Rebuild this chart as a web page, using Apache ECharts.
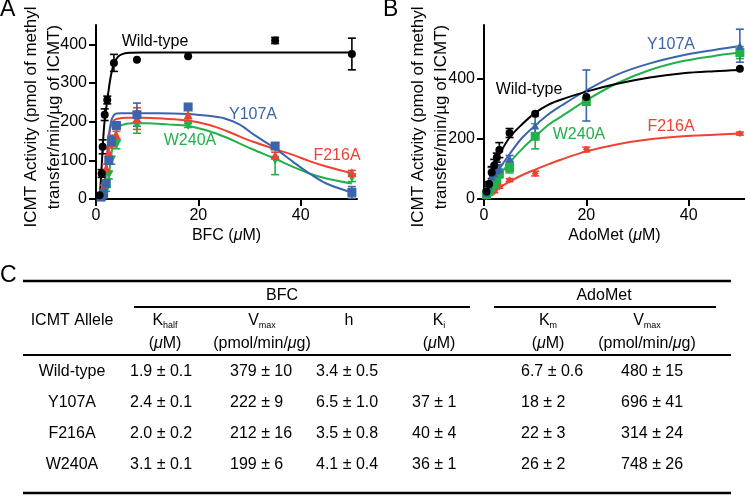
<!DOCTYPE html>
<html>
<head>
<meta charset="utf-8">
<script src="https://cdn.jsdelivr.net/npm/echarts@6/dist/echarts.min.js"></script>
<style>
  html, body { margin: 0; padding: 0; background: #fff; }
  #chart { width: 745px; height: 498px; }
</style>
</head>
<body>
<div id="chart"></div>
<script>
var FONT = '"Liberation Sans", Arial, Helvetica, sans-serif';
var BLACK = '#000000', BLUE = '#3b64ad', RED = '#ee4232', GREEN = '#21b04b';

// ticks
var xTicks = [0, 20, 40];
var yTicksA = [0, 100, 200, 300, 400];
var yTicksB = [0, 200, 400];

// Panel A, BFC: measured points [BFC uM, activity, error]
var ptsBfcWt = [[0.7, 10, 0], [1.1, 66, 10], [1.3, 135, 18], [1.7, 218, 15], [2.2, 256, 10], [3.5, 352, 22], [8, 360, 0], [18, 369, 0], [35, 410, 8], [50, 375, 41]];
var ptsBfcY107A = [[1.0, 5, 3], [1.5, 15, 5], [2.0, 40, 8], [2.5, 100, 10], [3.0, 150, 12], [4.0, 190, 8], [8, 218, 30], [18, 238, 6], [35, 137, 8], [50, 17, 15]];
var ptsBfcF216A = [[1.0, 8, 3], [1.5, 30, 6], [2.0, 80, 10], [2.5, 120, 12], [3.0, 150, 15], [4.0, 165, 10], [8, 208, 28], [18, 218, 15], [35, 113, 8], [50, 68, 6]];
var ptsBfcW240A = [[1.5, 5, 2], [2.0, 25, 5], [2.5, 62, 10], [3.0, 100, 10], [4.0, 140, 10], [8, 190, 20], [18, 190, 5], [35, 100, 37], [50, 55, 10]];

// Panel A fitted curves
var fitBfcWt = [[0.5, 2], [0.75, 15], [1, 60], [1.3, 130], [1.6, 190], [2, 235], [2.4, 275], [2.9, 318], [3.5, 350], [4.2, 366], [5, 374], [6.5, 378], [9, 379], [20, 379], [35, 379], [50, 379]];
var fitBfcY107A = [[1, 2], [1.5, 20], [2, 75], [2.5, 160], [3, 203], [3.5, 217], [4, 221], [5, 222], [12, 222], [18, 220], [22, 215], [25, 209], [28, 193], [31, 165], [35, 131], [38.5, 96], [41.7, 66], [45, 40], [50, 17]];
var fitBfcF216A = [[1, 3], [1.5, 25], [2, 85], [2.5, 160], [3, 193], [3.5, 203], [4, 207], [6, 210], [9, 210], [13, 208], [18, 203], [22, 192], [25.5, 176], [28, 162], [30.7, 148], [35, 129], [38.5, 114], [41.7, 98], [45, 84], [50, 67]];
var fitBfcW240A = [[1.5, 2], [2, 20], [2.5, 60], [3, 115], [3.5, 155], [4, 177], [5, 191], [7, 196], [10, 196], [14, 193], [18, 189], [22, 176], [25.5, 159], [28, 144], [30.7, 128], [35, 104], [38.5, 83], [41.7, 66], [45, 53], [50, 40]];

// Panel B, AdoMet: measured points
var ptsAdoWt = [[0.5, 25, 5], [1, 50, 8], [1.5, 88, 20], [2, 112, 20], [2.5, 138, 15], [3, 163, 25], [5, 220, 15], [10, 284, 0], [20, 340, 0], [50, 434, 0]];
var ptsAdoY107A = [[0.5, 20, 5], [1, 45, 8], [1.5, 75, 30], [2, 85, 15], [2.5, 95, 15], [3, 100, 15], [5, 135, 10], [10, 245, 30], [20, 345, 85], [50, 511, 55]];
var ptsAdoF216A = [[0.5, 8, 2], [1, 15, 3], [2, 25, 4], [3, 41, 5], [5, 63, 5], [10, 85, 8], [20, 165, 8], [50, 218, 5]];
var ptsAdoW240A = [[0.5, 15, 3], [1, 25, 5], [1.5, 40, 5], [2, 50, 8], [2.5, 65, 10], [3, 85, 15], [5, 105, 18], [10, 209, 42], [20, 325, 10], [50, 488, 20]];

// Panel B fitted curves
var fitAdoWt = [[0, 0], [1, 62], [2, 110], [3, 148], [5, 205], [7.5, 250], [10, 287], [12.8, 316], [15, 331], [20, 358], [26, 384], [32.4, 405], [38.9, 419], [45, 426], [50, 430]];
var fitAdoY107A = [[0, 0], [1, 37], [2, 70], [3, 100], [5, 150], [7.5, 205], [10, 245], [12.8, 285], [15, 310], [19.8, 360], [25.9, 414], [32.4, 452], [38.9, 479], [45, 497], [50, 510]];
var fitAdoF216A = [[0, 0], [1, 14], [2, 26], [3, 38], [5, 58], [7.5, 80], [10, 98], [12.8, 117], [15, 131], [19.8, 158], [25.9, 182], [32.4, 199], [38.9, 209], [45, 214], [50, 218]];
var fitAdoW240A = [[0, 0], [1, 28], [2, 53], [3, 78], [5, 121], [7.5, 168], [10, 208], [12.8, 250], [15, 274], [19.8, 327], [25.9, 385], [32.4, 430], [38.9, 460], [45, 477], [50, 488]];

// Panel C table
var alleles = ['Wild-type', 'Y107A', 'F216A', 'W240A'];
var kHalf = ['1.9 \u00b1 0.1', '2.4 \u00b1 0.1', '2.0 \u00b1 0.2', '3.1 \u00b1 0.1'];
var vmaxBfc = ['379 \u00b1 10', '222 \u00b1 9', '212 \u00b1 16', '199 \u00b1 6'];
var hill = ['3.4 \u00b1 0.5', '6.5 \u00b1 1.0', '3.5 \u00b1 0.8', '4.1 \u00b1 0.4'];
var kI = ['', '37 \u00b1 1', '40 \u00b1 4', '36 \u00b1 1'];
var kM = ['6.7 \u00b1 0.6', '18 \u00b1 2', '22 \u00b1 3', '26 \u00b1 2'];
var vmaxAdo = ['480 \u00b1 15', '696 \u00b1 41', '314 \u00b1 24', '748 \u00b1 26'];

var chart = echarts.init(document.getElementById('chart'));

var italicRich = { i: { fontStyle: 'italic', fontSize: 16, fontFamily: FONT, color: BLACK } };

function xAx(gi, name) {
  return {
    gridIndex: gi, type: 'value', min: 0, max: 51,
    axisLine: { show: true, onZero: false, lineStyle: { color: BLACK, width: 2 } },
    axisTick: { show: true, length: 7, lineStyle: { color: BLACK, width: 2 }, customValues: xTicks },
    axisLabel: { color: BLACK, fontSize: 16, fontFamily: FONT, margin: 9, customValues: xTicks },
    splitLine: { show: false },
    name: name, nameLocation: 'middle', nameGap: 29,
    nameTextStyle: { color: BLACK, fontSize: 16, fontFamily: FONT, rich: italicRich }
  };
}
function yAx(gi, max, ticks) {
  return {
    gridIndex: gi, type: 'value', min: 0, max: max,
    axisLine: { show: true, onZero: false, lineStyle: { color: BLACK, width: 2 } },
    axisTick: { show: true, length: 7, lineStyle: { color: BLACK, width: 2 }, customValues: ticks },
    axisLabel: { color: BLACK, fontSize: 16, fontFamily: FONT, margin: 9, customValues: ticks },
    splitLine: { show: false }
  };
}

function fitLine(data, color, gi) {
  return { type: 'line', xAxisIndex: gi, yAxisIndex: gi, data: data, smooth: 0.35,
    symbol: 'none', silent: true, lineStyle: { color: color, width: 2 }, z: 2 };
}
function pts(data, color, symbol, size, gi, rot) {
  return { type: 'scatter', xAxisIndex: gi, yAxisIndex: gi, data: data, symbol: symbol,
    symbolSize: size, symbolRotate: rot || 0, silent: true,
    itemStyle: { color: color, opacity: 1 }, z: 4 };
}
function errBars(data, color, gi) {
  return {
    type: 'custom', xAxisIndex: gi, yAxisIndex: gi, data: data, encode: { x: 0, y: 1 },
    silent: true, z: 3,
    renderItem: function (params, api) {
      var e = api.value(2);
      if (!e) return null;
      var x = api.value(0), y = api.value(1);
      var hi = api.coord([x, y + e]);
      var lo = api.coord([x, Math.max(0, y - e)]);
      var w = 4, st = { stroke: color, lineWidth: 1.6 };
      return { type: 'group', children: [
        { type: 'line', shape: { x1: hi[0], y1: hi[1], x2: lo[0], y2: lo[1] }, style: st },
        { type: 'line', shape: { x1: hi[0] - w, y1: hi[1], x2: hi[0] + w, y2: hi[1] }, style: st },
        { type: 'line', shape: { x1: lo[0] - w, y1: lo[1], x2: lo[0] + w, y2: lo[1] }, style: st }
      ] };
    }
  };
}

// ---- graphic: panel letters, labels, y names, table ----
var g = [];
function txt(x, y, text, opt) {
  opt = opt || {};
  g.push({
    type: 'text', x: x, y: y, rotation: opt.rotation || 0, silent: true,
    style: {
      text: text, fill: opt.color || BLACK, fontSize: opt.size || 16, fontFamily: FONT,
      align: opt.align || 'center', verticalAlign: opt.valign || 'middle',
      lineHeight: opt.lineHeight, rich: opt.rich
    }
  });
}
function rule(x1, x2, y, w) {
  g.push({ type: 'line', silent: true, shape: { x1: x1, y1: y, x2: x2, y2: y },
    style: { stroke: BLACK, lineWidth: w || 2 } });
}

txt(0, -2, 'A', { size: 23, align: 'left', valign: 'top' });
txt(383, -2, 'B', { size: 23, align: 'left', valign: 'top' });

var yName = 'ICMT Activity (pmol of methyl\ntransfer/min/\u00b5g of ICMT)';
txt(43, 117, yName, { size: 17, lineHeight: 23, rotation: Math.PI / 2 });
txt(430, 117, yName, { size: 17, lineHeight: 23, rotation: Math.PI / 2 });

txt(155, 42, 'Wild-type');
txt(253, 115, 'Y107A', { color: BLUE });
txt(190, 141, 'W240A', { color: GREEN });
txt(337, 156, 'F216A', { color: RED });
txt(529, 90, 'Wild-type');
txt(671, 45, 'Y107A', { color: BLUE });
txt(579, 135, 'W240A', { color: GREEN });
txt(671, 127, 'F216A', { color: RED });

// table layout
var tLeft = 23, tRight = 731;
var ruleTopY = 281, groupY = 296, groupRuleY = 307, hdr1Y = 321, hdr2Y = 344, hdrRuleY = 355, ruleBottomY = 493;
var rowY = [372, 403, 434, 465];
var alleleX = 72;
var hdrX = [165, 262, 349, 439, 548, 647];
var valX = [130, 230, 316, 412, 521, 621];
var subRich = {
  b: { fontSize: 16, fontFamily: FONT, color: BLACK, lineHeight: 18 },
  s: { fontSize: 9, fontFamily: FONT, color: BLACK, lineHeight: 18, verticalAlign: 'bottom', padding: [6, 0, 0, 0] },
  i: { fontStyle: 'italic', fontSize: 16, fontFamily: FONT, color: BLACK }
};

txt(0, 276, 'C', { size: 23, align: 'left' });
rule(tLeft, tRight, ruleTopY, 2.5);
txt(282, groupY, 'BFC');
txt(604, groupY, 'AdoMet');
rule(134, 470, groupRuleY, 2);
rule(494, 716, groupRuleY, 2);
txt(alleleX, hdr1Y, 'ICMT Allele');
txt(hdrX[0], hdr1Y, '{b|K}{s|half}', { rich: subRich });
txt(hdrX[1], hdr1Y, '{b|V}{s|max}', { rich: subRich });
txt(hdrX[2], hdr1Y, 'h');
txt(hdrX[3], hdr1Y, '{b|K}{s|i}', { rich: subRich });
txt(hdrX[4], hdr1Y, '{b|K}{s|m}', { rich: subRich });
txt(hdrX[5], hdr1Y, '{b|V}{s|max}', { rich: subRich });
txt(hdrX[0], hdr2Y, '({i|\u03bc}M)', { rich: subRich });
txt(hdrX[1], hdr2Y, '(pmol/min/{i|\u03bc}g)', { rich: subRich });
txt(hdrX[3], hdr2Y, '({i|\u03bc}M)', { rich: subRich });
txt(hdrX[4], hdr2Y, '({i|\u03bc}M)', { rich: subRich });
txt(hdrX[5], hdr2Y, '(pmol/min/{i|\u03bc}g)', { rich: subRich });
rule(tLeft, tRight, hdrRuleY, 2);

var cols = [kHalf, vmaxBfc, hill, kI, kM, vmaxAdo];
alleles.forEach(function (a, r) {
  txt(alleleX, rowY[r], a);
  cols.forEach(function (col, c) {
    if (col[r]) txt(valX[c], rowY[r], col[r], { align: 'left' });
  });
});
rule(tLeft, tRight, ruleBottomY, 2.5);

chart.setOption({
  animation: false,
  backgroundColor: '#fff',
  textStyle: { fontFamily: FONT },
  grid: [
    { left: 96, top: 25, width: 261, height: 174 },
    { left: 484, top: 25, width: 261, height: 174 }
  ],
  xAxis: [xAx(0, 'BFC ({i|\u03bc}M)'), xAx(1, 'AdoMet ({i|\u03bc}M)')],
  yAxis: [yAx(0, 450, yTicksA), yAx(1, 580, yTicksB)],
  series: [
    fitLine(fitBfcW240A, GREEN, 0), fitLine(fitBfcF216A, RED, 0),
    fitLine(fitBfcY107A, BLUE, 0), fitLine(fitBfcWt, BLACK, 0),
    errBars(ptsBfcW240A, GREEN, 0), errBars(ptsBfcF216A, RED, 0),
    errBars(ptsBfcY107A, BLUE, 0), errBars(ptsBfcWt, BLACK, 0),
    pts(ptsBfcW240A, GREEN, 'triangle', 9, 0, 180), pts(ptsBfcF216A, RED, 'triangle', 9, 0),
    pts(ptsBfcY107A, BLUE, 'rect', 9, 0), pts(ptsBfcWt, BLACK, 'circle', 8, 0),

    fitLine(fitAdoF216A, RED, 1), fitLine(fitAdoW240A, GREEN, 1),
    fitLine(fitAdoY107A, BLUE, 1), fitLine(fitAdoWt, BLACK, 1),
    errBars(ptsAdoF216A, RED, 1), errBars(ptsAdoW240A, GREEN, 1),
    errBars(ptsAdoY107A, BLUE, 1), errBars(ptsAdoWt, BLACK, 1),
    pts(ptsAdoF216A, RED, 'diamond', 7, 1), pts(ptsAdoW240A, GREEN, 'rect', 9, 1),
    pts(ptsAdoY107A, BLUE, 'triangle', 8, 1), pts(ptsAdoWt, BLACK, 'circle', 8, 1)
  ],
  graphic: g
});
</script>
</body>
</html>
